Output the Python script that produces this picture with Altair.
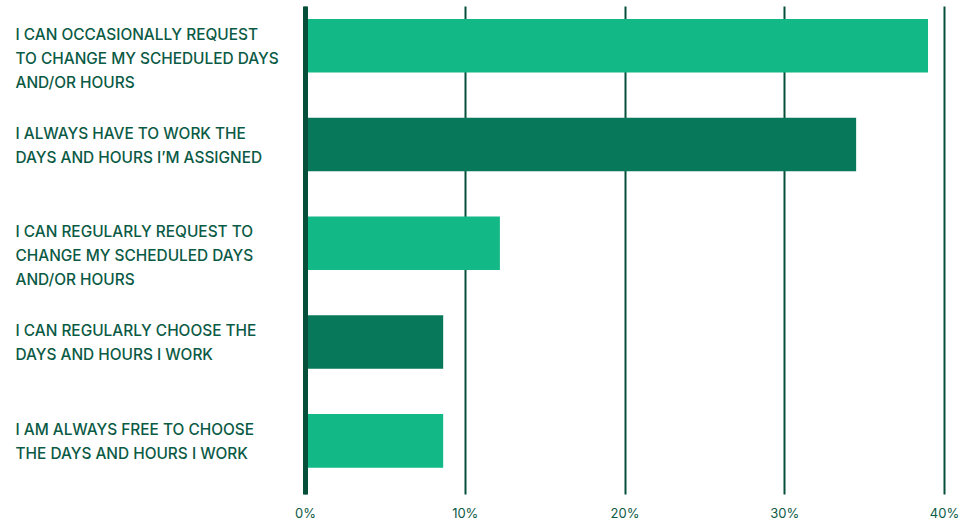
import altair as alt
import pandas as pd

categories = [
    "I CAN OCCASIONALLY REQUEST|TO CHANGE MY SCHEDULED DAYS|AND/OR HOURS",
    "I ALWAYS HAVE TO WORK THE|DAYS AND HOURS I\u2019M ASSIGNED",
    "I CAN REGULARLY REQUEST TO|CHANGE MY SCHEDULED DAYS|AND/OR HOURS",
    "I CAN REGULARLY CHOOSE THE|DAYS AND HOURS I WORK",
    "I AM ALWAYS FREE TO CHOOSE|THE DAYS AND HOURS I WORK",
]
values = [39.0, 34.5, 12.2, 8.65, 8.65]
x_ticks = [0, 10, 20, 30, 40]

df = pd.DataFrame({"answer": categories, "share": values})

LIGHT = "#12b886"
DARK = "#07785a"
LINE = "#06503b"
TEXT = "#0b5a45"
FONT = "Inter"

chart = (
    alt.Chart(df)
    .transform_window(idx="row_number()")
    .transform_calculate(parity="datum.idx % 2 == 1 ? 'odd' : 'even'")
    .mark_bar()
    .encode(
        y=alt.Y(
            "answer:N",
            sort=None,
            scale=alt.Scale(paddingInner=0.458, paddingOuter=0.199, align=0.33),
            axis=alt.Axis(
                title=None,
                labelExpr="split(datum.label, '|')",
                labelAlign="left",
                labelBaseline="middle",
                labelPadding=290,
                labelOffset=-11,
                labelLimit=400,
                labelLineHeight=24,
                labelFont=FONT,
                labelFontSize=15.4,
                labelFontWeight=500,
                labelColor=TEXT,
                ticks=False,
                tickSize=0,
                domain=True,
                domainColor=LINE,
                domainWidth=5,
                grid=False,
                zindex=1,
            ),
        ),
        x=alt.X(
            "share:Q",
            scale=alt.Scale(domain=[0, 40], nice=False),
            axis=alt.Axis(
                title=None,
                values=x_ticks,
                labelExpr="datum.value + '%'",
                labelFont=FONT,
                labelFontSize=13,
                labelColor=TEXT,
                labelPadding=13,
                labelFlush=False,
                ticks=False,
                domain=False,
                grid=True,
                gridColor=LINE,
                gridWidth=2,
                gridOpacity=1,
            ),
        ),
        color=alt.Color(
            "parity:N",
            scale=alt.Scale(domain=["odd", "even"], range=[LIGHT, DARK]),
            legend=None,
        ),
    )
    .properties(
        width=639,
        height=488,
        padding={"left": 15, "top": 6, "right": 0, "bottom": 0},
    )
    .configure_view(stroke=None)
)

chart.save("out.html", embed_options={"renderer": "svg", "actions": False})
